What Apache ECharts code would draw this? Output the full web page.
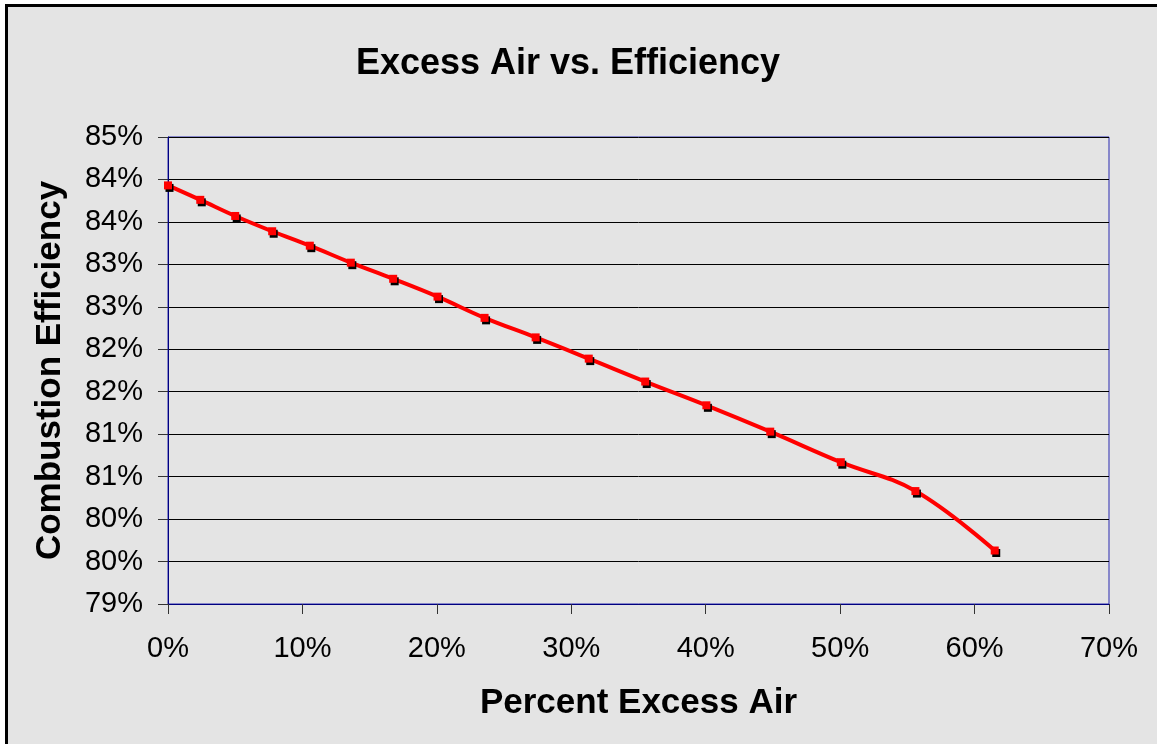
<!DOCTYPE html>
<html>
<head>
<meta charset="utf-8">
<script src="https://cdn.jsdelivr.net/npm/echarts@6/dist/echarts.min.js"></script>
<style>
  html, body { margin: 0; padding: 0; background: #fff; }
  #chart { width: 1157px; height: 744px; }
</style>
</head>
<body>
<div id="chart"></div>
<script>
// percent excess air (x) and combustion efficiency (y), both in %
var excessAir = [0, 2.4, 5.0, 7.75, 10.55, 13.6, 16.75, 20.05, 23.55, 27.35, 31.3, 35.5, 40.05, 44.8, 50.05, 55.6, 61.5];
var efficiency = [83.93, 83.76, 83.57, 83.39, 83.22, 83.02, 82.83, 82.62, 82.37, 82.14, 81.89, 81.62, 81.34, 81.03, 80.67, 80.33, 79.63];

var points = [];
for (var i = 0; i < excessAir.length; i++) {
    points.push([excessAir[i], efficiency[i]]);
}

var chart = echarts.init(document.getElementById('chart'));
chart.setOption({
    backgroundColor: '#fff',
    animation: false,
    textStyle: { fontFamily: 'Liberation Sans, Arial, sans-serif' },
    graphic: [{
        type: 'rect',
        silent: true,
        z: -10,
        shape: { x: 6.5, y: 5.5, width: 1200, height: 800 },
        style: { fill: '#e4e4e4', stroke: '#000', lineWidth: 3 }
    }],
    title: {
        text: 'Excess Air vs. Efficiency',
        left: 563,
        top: 41,
        textAlign: 'center',
        textStyle: { fontSize: 36, fontWeight: 'bold', color: '#000', fontFamily: 'Liberation Sans, Arial, sans-serif' }
    },
    grid: {
        left: 168, top: 137, width: 941, height: 467,
        show: true, borderColor: '#2a2ab0', borderWidth: 1, backgroundColor: 'transparent'
    },
    xAxis: {
        type: 'value',
        min: 0, max: 70, interval: 10,
        name: 'Percent Excess Air',
        nameLocation: 'middle',
        nameGap: 82,
        nameTextStyle: { fontSize: 35, fontWeight: 'bold', color: '#000' },
        axisLine: { show: true, lineStyle: { color: '#000080', width: 1 } },
        axisTick: { show: true, length: 10, lineStyle: { color: '#333' } },
        axisLabel: { fontSize: 29, color: '#000', margin: 30, formatter: function (v) { return v + '%'; } },
        splitLine: { show: false }
    },
    yAxis: {
        type: 'value',
        min: 79, max: 84.5, interval: 0.5,
        name: 'Combustion Efficiency',
        nameLocation: 'middle',
        nameRotate: 90,
        nameGap: 100,
        nameTextStyle: { fontSize: 35, fontWeight: 'bold', color: '#000' },
        axisLine: { show: true, lineStyle: { color: '#000080', width: 1 } },
        axisTick: { show: true, length: 10, lineStyle: { color: '#333' } },
        axisLabel: { fontSize: 29, color: '#000', margin: 25, formatter: function (v) { return Math.round(v) + '%'; } },
        splitLine: { show: true, lineStyle: { color: '#000', width: 1 } }
    },
    series: [{
        type: 'line',
        data: points,
        smooth: 0.4,
        symbol: 'rect',
        symbolSize: 8,
        lineStyle: { color: '#ff0000', width: 4 },
        itemStyle: { color: '#ff0000', shadowColor: '#000', shadowBlur: 0.01, shadowOffsetX: 1.5, shadowOffsetY: 2.5 }
    }]
});
</script>
</body>
</html>
